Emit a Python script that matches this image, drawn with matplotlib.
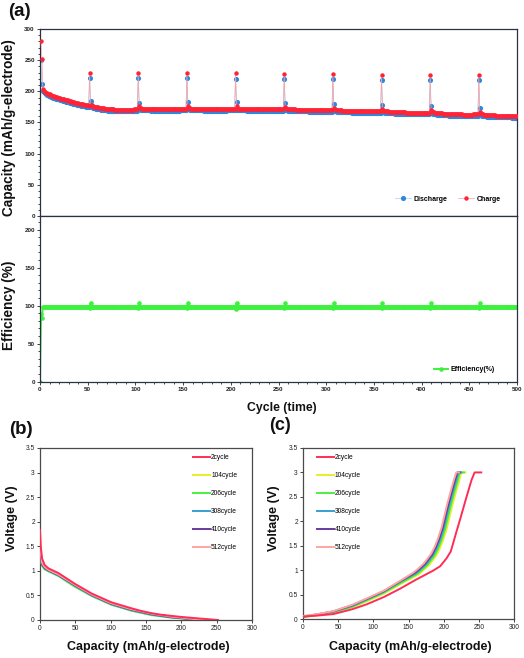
import matplotlib
matplotlib.use('Agg')
import matplotlib.pyplot as plt
from matplotlib.ticker import MultipleLocator
from matplotlib.lines import Line2D

plt.rcParams['font.family'] = ['Liberation Sans', 'DejaVu Sans']

# ---------------- (a) cycling data ----------------
cycles = list(range(1, 501))

discharge = [
    250.0, 212.0, 201.0, 198.4, 196.6, 195.5, 194.6, 193.9, 193.2, 192.5,
    191.9, 191.2, 190.6, 190.1, 189.5, 188.9, 188.4, 187.9, 187.4, 186.9,
    186.4, 185.9, 185.4, 185.0, 184.5, 184.1, 183.6, 183.2, 182.8, 182.3,
    181.9, 181.5, 181.1, 180.6, 180.2, 179.8, 179.4, 179.0, 178.6, 178.2,
    177.9, 177.5, 177.2, 176.8, 176.5, 176.2, 175.8, 175.5, 175.2, 174.9,
    174.6, 221.5, 184.4, 175.6, 174.2, 173.6, 173.1, 172.7, 172.3, 171.9,
    171.6, 171.3, 171.0, 170.7, 170.5, 170.2, 170.0, 169.8, 169.6, 169.4,
    169.2, 169.0, 168.9, 168.7, 168.6, 168.5, 168.4, 168.3, 168.2, 168.2,
    168.1, 168.0, 168.0, 167.9, 167.9, 167.9, 167.8, 167.8, 167.8, 167.8,
    167.8, 167.9, 167.9, 168.0, 168.0, 168.1, 168.2, 168.3, 168.4, 168.5,
    168.6, 168.7, 221.5, 182.0, 171.3, 170.2, 169.8, 169.6, 169.5, 169.4,
    169.4, 169.3, 169.3, 169.4, 169.3, 169.2, 169.3, 169.3, 169.2, 169.2,
    169.3, 169.2, 169.2, 169.1, 169.2, 169.2, 169.1, 169.1, 169.2, 169.1,
    169.1, 169.2, 169.1, 169.1, 169.0, 169.1, 169.1, 169.0, 169.1, 169.1,
    169.0, 169.1, 169.2, 169.1, 169.2, 169.2, 169.3, 169.3, 169.4, 169.4,
    169.5, 169.6, 169.7, 221.5, 182.3, 171.0, 170.1, 169.8, 169.6, 169.5,
    169.5, 169.4, 169.4, 169.5, 169.4, 169.4, 169.3, 169.4, 169.3, 169.3,
    169.3, 169.2, 169.3, 169.2, 169.2, 169.3, 169.2, 169.2, 169.1, 169.2,
    169.2, 169.1, 169.2, 169.1, 169.1, 169.2, 169.1, 169.1, 169.2, 169.2,
    169.1, 169.2, 169.2, 169.3, 169.2, 169.3, 169.3, 169.4, 169.4, 169.5,
    169.5, 169.6, 169.6, 169.7, 220.4, 182.3, 170.8, 169.9, 169.6, 169.5,
    169.4, 169.4, 169.3, 169.4, 169.3, 169.3, 169.2, 169.3, 169.2, 169.2,
    169.1, 169.2, 169.1, 169.1, 169.0, 169.1, 169.0, 169.0, 168.9, 169.0,
    168.9, 168.9, 168.8, 168.9, 168.8, 168.8, 168.7, 168.8, 168.7, 168.7,
    168.7, 168.6, 168.7, 168.6, 168.6, 168.6, 168.7, 168.6, 168.7, 168.7,
    168.8, 168.8, 168.9, 168.9, 169.0, 219.4, 182.0, 170.4, 169.4, 169.0,
    168.8, 168.7, 168.6, 168.6, 168.5, 168.4, 168.4, 168.3, 168.3, 168.2,
    168.2, 168.1, 168.1, 168.0, 168.0, 167.9, 167.9, 167.8, 167.8, 167.7,
    167.7, 167.6, 167.6, 167.5, 167.5, 167.5, 167.4, 167.4, 167.3, 167.3,
    167.3, 167.2, 167.2, 167.2, 167.1, 167.1, 167.1, 167.1, 167.0, 167.0,
    167.1, 167.1, 167.2, 167.2, 167.3, 167.3, 219.4, 180.0, 169.0, 167.9,
    167.5, 167.3, 167.1, 167.0, 166.9, 166.8, 166.7, 166.6, 166.5, 166.5,
    166.4, 166.3, 166.3, 166.2, 166.1, 166.1, 166.0, 166.0, 165.9, 165.9,
    165.8, 165.8, 165.7, 165.7, 165.6, 165.6, 165.5, 165.5, 165.5, 165.4,
    165.4, 165.4, 165.3, 165.3, 165.3, 165.2, 165.2, 165.2, 165.2, 165.2,
    165.2, 165.2, 165.3, 165.3, 165.4, 165.4, 165.5, 218.8, 178.5, 167.5,
    166.4, 165.9, 165.6, 165.4, 165.2, 165.0, 164.9, 164.8, 164.7, 164.6,
    164.5, 164.4, 164.3, 164.2, 164.2, 164.1, 164.0, 163.9, 163.9, 163.8,
    163.7, 163.7, 163.6, 163.5, 163.5, 163.4, 163.4, 163.3, 163.3, 163.2,
    163.2, 163.1, 163.1, 163.1, 163.0, 163.0, 163.0, 163.0, 162.9, 162.9,
    163.0, 163.0, 163.0, 163.1, 163.1, 163.2, 163.2, 163.3, 218.3, 175.8,
    165.2, 164.1, 163.6, 163.3, 163.0, 162.8, 162.6, 162.4, 162.3, 162.1,
    162.0, 161.9, 161.8, 161.7, 161.6, 161.5, 161.4, 161.3, 161.2, 161.1,
    161.0, 161.0, 160.9, 160.8, 160.8, 160.7, 160.6, 160.6, 160.5, 160.5,
    160.4, 160.4, 160.3, 160.3, 160.3, 160.2, 160.2, 160.2, 160.2, 160.2,
    160.2, 160.3, 160.3, 160.4, 160.4, 160.5, 160.5, 160.6, 160.7, 218.3,
    173.7, 162.5, 161.2, 160.6, 160.3, 160.0, 159.8, 159.7, 159.5, 159.4,
    159.3, 159.2, 159.1, 159.0, 158.9, 158.9, 158.8, 158.7, 158.7, 158.6,
    158.6, 158.5, 158.5, 158.4, 158.4, 158.3, 158.3, 158.3, 158.2, 158.2,
    158.2, 158.1, 158.1, 158.1, 158.0, 158.0, 158.0, 158.0, 157.9, 157.9,
]

charge = [
    280.0, 252.0, 204.5, 201.0, 199.2, 198.1, 197.2, 196.5, 195.8, 195.1,
    194.4, 193.8, 193.1, 192.6, 192.0, 191.5, 190.9, 190.4, 189.9, 189.4,
    188.9, 188.4, 187.9, 187.5, 187.0, 186.6, 186.1, 185.7, 185.3, 184.8,
    184.4, 184.0, 183.6, 183.1, 182.7, 182.3, 181.9, 181.5, 181.1, 180.7,
    180.4, 180.0, 179.7, 179.3, 179.0, 178.7, 178.3, 178.0, 177.7, 177.4,
    177.1, 229.6, 178.0, 178.1, 176.7, 176.1, 175.6, 175.2, 174.8, 174.4,
    174.1, 173.8, 173.5, 173.2, 173.0, 172.7, 172.5, 172.3, 172.1, 171.9,
    171.7, 171.5, 171.4, 171.2, 171.1, 171.0, 170.9, 170.8, 170.7, 170.7,
    170.6, 170.5, 170.5, 170.4, 170.4, 170.4, 170.3, 170.3, 170.3, 170.3,
    170.3, 170.4, 170.4, 170.5, 170.5, 170.6, 170.7, 170.8, 170.9, 171.0,
    171.1, 171.2, 229.6, 176.0, 173.8, 172.7, 172.3, 172.1, 172.0, 171.9,
    171.9, 171.8, 171.8, 171.9, 171.8, 171.7, 171.8, 171.8, 171.7, 171.7,
    171.8, 171.7, 171.7, 171.6, 171.7, 171.7, 171.6, 171.6, 171.7, 171.6,
    171.6, 171.7, 171.6, 171.6, 171.5, 171.6, 171.6, 171.5, 171.6, 171.6,
    171.5, 171.6, 171.7, 171.6, 171.7, 171.7, 171.8, 171.8, 171.9, 171.9,
    172.0, 172.1, 172.2, 229.6, 176.0, 173.5, 172.6, 172.3, 172.1, 172.0,
    172.0, 171.9, 171.9, 172.0, 171.9, 171.9, 171.8, 171.9, 171.8, 171.8,
    171.8, 171.7, 171.8, 171.7, 171.7, 171.8, 171.7, 171.7, 171.6, 171.7,
    171.7, 171.6, 171.7, 171.6, 171.6, 171.7, 171.6, 171.6, 171.7, 171.7,
    171.6, 171.7, 171.7, 171.8, 171.7, 171.8, 171.8, 171.9, 171.9, 172.0,
    172.0, 172.1, 172.1, 172.2, 229.6, 176.0, 173.3, 172.4, 172.1, 172.0,
    171.9, 171.9, 171.8, 171.9, 171.8, 171.8, 171.7, 171.8, 171.7, 171.7,
    171.6, 171.7, 171.6, 171.6, 171.5, 171.6, 171.5, 171.5, 171.4, 171.5,
    171.4, 171.4, 171.3, 171.4, 171.3, 171.3, 171.2, 171.3, 171.2, 171.2,
    171.2, 171.1, 171.2, 171.1, 171.1, 171.1, 171.2, 171.1, 171.2, 171.2,
    171.3, 171.3, 171.4, 171.4, 171.5, 227.4, 175.6, 172.9, 171.9, 171.5,
    171.3, 171.2, 171.1, 171.1, 171.0, 170.9, 170.9, 170.8, 170.8, 170.7,
    170.7, 170.6, 170.6, 170.5, 170.5, 170.4, 170.4, 170.3, 170.3, 170.2,
    170.2, 170.1, 170.1, 170.0, 170.0, 170.0, 169.9, 169.9, 169.8, 169.8,
    169.8, 169.7, 169.7, 169.7, 169.6, 169.6, 169.6, 169.6, 169.5, 169.5,
    169.6, 169.6, 169.7, 169.7, 169.8, 169.8, 227.4, 173.8, 171.5, 170.4,
    170.0, 169.8, 169.6, 169.5, 169.4, 169.3, 169.2, 169.1, 169.0, 169.0,
    168.9, 168.8, 168.8, 168.7, 168.6, 168.6, 168.5, 168.5, 168.4, 168.4,
    168.3, 168.3, 168.2, 168.2, 168.1, 168.1, 168.0, 168.0, 168.0, 167.9,
    167.9, 167.9, 167.8, 167.8, 167.8, 167.7, 167.7, 167.7, 167.7, 167.7,
    167.7, 167.7, 167.8, 167.8, 167.9, 167.9, 168.0, 226.3, 172.2, 170.0,
    168.9, 168.4, 168.1, 167.9, 167.7, 167.5, 167.4, 167.3, 167.2, 167.1,
    167.0, 166.9, 166.8, 166.7, 166.7, 166.6, 166.5, 166.4, 166.4, 166.3,
    166.2, 166.2, 166.1, 166.0, 166.0, 165.9, 165.9, 165.8, 165.8, 165.7,
    165.7, 165.6, 165.6, 165.6, 165.5, 165.5, 165.5, 165.5, 165.4, 165.4,
    165.5, 165.5, 165.5, 165.6, 165.6, 165.7, 165.7, 165.8, 225.8, 169.8,
    167.7, 166.6, 166.1, 165.8, 165.5, 165.3, 165.1, 164.9, 164.8, 164.6,
    164.5, 164.4, 164.3, 164.2, 164.1, 164.0, 163.9, 163.8, 163.7, 163.6,
    163.5, 163.5, 163.4, 163.3, 163.3, 163.2, 163.1, 163.1, 163.0, 163.0,
    162.9, 162.9, 162.8, 162.8, 162.8, 162.7, 162.7, 162.7, 162.7, 162.7,
    162.7, 162.8, 162.8, 162.9, 162.9, 163.0, 163.0, 163.1, 163.2, 225.8,
    167.5, 165.0, 163.7, 163.1, 162.8, 162.5, 162.3, 162.2, 162.0, 161.9,
    161.8, 161.7, 161.6, 161.5, 161.4, 161.4, 161.3, 161.2, 161.2, 161.1,
    161.1, 161.0, 161.0, 160.9, 160.9, 160.8, 160.8, 160.8, 160.7, 160.7,
    160.7, 160.6, 160.6, 160.6, 160.5, 160.5, 160.5, 160.5, 160.4, 160.4,
]

# efficiency trace starts from a zero point at cycle 0
eff_start_cycle = 0
eff_start_value = 0.0

assert len(discharge) == 500 and len(charge) == 500

# ---------------- (b) discharge / (c) charge profiles ----------------
profile_labels = ['2cycle', '104cycle', '206cycle', '308cycle', '410cycle', '512cycle']
profile_colors = ['#ff2d55', '#e8ee2a', '#4def3c', '#37a0d2', '#6a3a9e', '#ffa5a0']

# discharge: (capacity, voltage)
dis_2 = [(0, 1.83), (1, 1.5), (3, 1.25), (6.6, 1.12), (12, 1.05), (25.5, 0.96), (49, 0.74),
         (73, 0.54), (101, 0.36), (129, 0.24), (141.5, 0.19), (157.5, 0.14), (170, 0.11),
         (198, 0.065), (226, 0.03), (252, 0.0)]
dis_104 = [(0, 1.65), (1, 1.35), (3, 1.15), (6.6, 1.06), (12, 1.0), (25.5, 0.91), (49, 0.69),
           (73, 0.5), (101, 0.32), (129, 0.2), (157.5, 0.11), (185, 0.06), (210, 0.025), (222, 0.0)]
dis_206 = [(0, 1.45), (1, 1.25), (3, 1.1), (6.6, 1.03), (12, 0.99), (25.5, 0.9), (49, 0.68),
           (73, 0.49), (101, 0.31), (129, 0.19), (157.5, 0.1), (185, 0.05), (210, 0.02), (224, 0.0)]
dis_308 = [(0, 1.5), (1, 1.28), (3, 1.12), (6.6, 1.05), (12, 1.0), (25.5, 0.91), (49, 0.7),
           (73, 0.5), (101, 0.32), (129, 0.2), (157.5, 0.11), (185, 0.055), (212, 0.02), (226, 0.0)]
dis_410 = [(0, 1.55), (1, 1.3), (3, 1.13), (6.6, 1.06), (12, 1.01), (25.5, 0.92), (49, 0.71),
           (73, 0.51), (101, 0.33), (129, 0.21), (157.5, 0.12), (185, 0.06), (214, 0.02), (228, 0.0)]
dis_512 = [(0, 1.7), (1, 1.38), (3, 1.16), (6.6, 1.08), (12, 1.02), (25.5, 0.93), (49, 0.72),
           (73, 0.52), (101, 0.34), (129, 0.22), (157.5, 0.13), (185, 0.07), (215, 0.025), (230, 0.0)]

# charge: (capacity, voltage)
chg_2 = [(0, 0.05), (20, 0.07), (43, 0.1), (70, 0.2), (90.5, 0.3), (115, 0.45), (138, 0.62),
         (160, 0.8), (185, 0.99), (195, 1.08), (204, 1.24), (210, 1.38), (213.5, 1.55),
         (218, 1.78), (223, 2.02), (232.5, 2.5), (239.5, 2.84), (244, 3.0), (253.5, 3.0)]
chg_104 = [(0, 0.04), (20, 0.075), (43, 0.13), (70, 0.24), (90.5, 0.36), (115, 0.52), (138, 0.71),
           (164, 0.91), (170, 0.98), (179, 1.1), (189, 1.29), (194, 1.43), (198.8, 1.6), (204, 1.83),
           (208, 2.07), (212, 2.31), (217.5, 2.6), (222, 2.83), (225, 3.0), (231, 3.0)]
chg_206 = [(0, 0.04), (20, 0.08), (43, 0.14), (70, 0.25), (90.5, 0.38), (115, 0.54), (138, 0.73),
           (162, 0.92), (168, 0.99), (177, 1.11), (187, 1.3), (192, 1.44), (196.8, 1.61), (202, 1.84),
           (206, 2.08), (210, 2.32), (215.5, 2.61), (220, 2.84), (223, 3.0), (229, 3.0)]
chg_308 = [(0, 0.05), (20, 0.09), (43, 0.15), (70, 0.27), (90.5, 0.4), (115, 0.56), (138, 0.76),
           (160, 0.93), (166, 1.0), (175, 1.12), (185, 1.31), (190, 1.45), (194.8, 1.62), (200, 1.85),
           (204, 2.09), (208, 2.33), (213.5, 2.62), (218, 2.85), (221, 3.0), (225, 3.0)]
chg_410 = [(0, 0.05), (20, 0.095), (43, 0.155), (70, 0.28), (90.5, 0.41), (115, 0.57), (138, 0.77),
           (158.5, 0.94), (164.5, 1.01), (173.5, 1.13), (183.5, 1.32), (188.5, 1.46), (193.3, 1.63),
           (198.5, 1.86), (202.5, 2.1), (206.5, 2.34), (212, 2.63), (216.5, 2.86), (219.5, 3.0), (223, 3.0)]
chg_512 = [(0, 0.06), (20, 0.1), (43, 0.16), (70, 0.29), (90.5, 0.42), (115, 0.58), (138, 0.78),
           (157, 0.95), (163, 1.02), (172, 1.14), (182, 1.33), (187, 1.47), (191.8, 1.64), (197, 1.87),
           (201, 2.11), (205, 2.35), (210.5, 2.64), (215, 2.87), (218, 3.0), (222, 3.0)]

discharge_profiles = [dis_2, dis_104, dis_206, dis_308, dis_410, dis_512]
charge_profiles = [chg_2, chg_104, chg_206, chg_308, chg_410, chg_512]

# ---------------- layout helpers (pixel -> figure fraction) ----------------
W, H = 524, 658


def fx(x):
    return x / W


def fy(y):
    return 1 - y / H


def style_ticks(ax, size, bold=False):
    ax.tick_params(axis='both', which='major', direction='out', length=2.2, width=0.6,
                   labelsize=size, pad=1.5, colors='#222222')
    ax.tick_params(axis='both', which='minor', direction='out', length=1.2, width=0.5)
    if bold:
        for lab in ax.get_xticklabels() + ax.get_yticklabels():
            lab.set_fontweight('bold')


fig = plt.figure(figsize=(W / 100, H / 100), dpi=100)

frame_a = '#2a3142'
frame_bc = '#4a4a4a'

ax_cap = fig.add_axes([fx(40), fy(216), (517 - 40) / W, (216 - 29) / H])
ax_eff = fig.add_axes([fx(40), fy(381.5), (517 - 40) / W, (381.5 - 216) / H])
ax_b = fig.add_axes([fx(40), fy(620), (252 - 40) / W, (620 - 448) / H])
ax_c = fig.add_axes([fx(303), fy(619), (514 - 303) / W, (619 - 448) / H])

# capacity
dis_style = dict(color='#a9cdf0', lw=0.5, marker='o', ms=3.7, mfc='#2f86da', mec='#2f86da', mew=0)
chg_style = dict(color='#f5a3a8', lw=0.5, marker='o', ms=3.2, mfc='#ff2336', mec='#ff2336', mew=0)
ax_cap.plot(cycles, discharge, zorder=2, **dis_style)
ax_cap.plot(cycles, charge, zorder=3, **chg_style)
ax_cap.set_xlim(0, 500)
ax_cap.set_ylim(0, 300)
ax_cap.yaxis.set_major_locator(MultipleLocator(50))
ax_cap.yaxis.set_minor_locator(MultipleLocator(10))
ax_cap.xaxis.set_major_locator(MultipleLocator(50))
ax_cap.xaxis.set_minor_locator(MultipleLocator(10))
ax_cap.tick_params(labelbottom=False)
style_ticks(ax_cap, 4.5, bold=True)

h_dis = Line2D([], [], **dis_style)
h_chg = Line2D([], [], **chg_style)
ax_cap.legend([h_dis, h_chg], ['Discharge', 'Charge'], ncol=2, frameon=False,
              loc='center', bbox_to_anchor=(0.855, 0.09), prop={'size': 5, 'weight': 'bold'},
              handlelength=2.2, handletextpad=0.4, columnspacing=1.6)

# efficiency
efficiency = [d / c * 100 for d, c in zip(discharge, charge)]
eff_x = [eff_start_cycle] + cycles
eff_y = [eff_start_value] + efficiency
ax_eff.plot(eff_x, eff_y, color='#3df23d', lw=1.4, marker='o', ms=3.3,
            mfc='#3df23d', mec='#3df23d', mew=0, label='Efficiency(%)')
ax_eff.set_xlim(0, 500)
ax_eff.set_ylim(0, 218)
ax_eff.yaxis.set_major_locator(MultipleLocator(50))
ax_eff.yaxis.set_minor_locator(MultipleLocator(10))
ax_eff.xaxis.set_major_locator(MultipleLocator(50))
ax_eff.xaxis.set_minor_locator(MultipleLocator(10))
style_ticks(ax_eff, 4.5, bold=True)
ax_eff.legend(frameon=False, loc='center', bbox_to_anchor=(0.89, 0.072),
              prop={'size': 5, 'weight': 'bold'}, handlelength=2.0, handletextpad=0.4)

for ax in (ax_cap, ax_eff):
    for sp in ax.spines.values():
        sp.set_color(frame_a)
        sp.set_linewidth(0.9)

# (b) and (c)
for ax, profiles, anchor in ((ax_b, discharge_profiles, (0.722, 0.965)),
                             (ax_c, charge_profiles, (0.066, 0.965))):
    for i, (pts, lab, col) in enumerate(zip(profiles, profile_labels, profile_colors)):
        xs = [p[0] for p in pts]
        ys = [p[1] for p in pts]
        ax.plot(xs, ys, color=col, lw=1.4, label=lab, zorder=5 if i == 0 else 3 + i * 0.1)
    ax.set_xlim(0, 300)
    ax.set_ylim(0, 3.5)
    ax.xaxis.set_major_locator(MultipleLocator(50))
    ax.set_yticks([0, 0.5, 1, 1.5, 2, 2.5, 3, 3.5])
    ax.set_yticklabels(['0', '0.5', '1', '1.5', '2', '2.5', '3', '3.5'])
    style_ticks(ax, 4.8)
    for sp in ax.spines.values():
        sp.set_color(frame_bc)
        sp.set_linewidth(0.9)
    ax.legend(frameon=False, loc='upper left', bbox_to_anchor=anchor, borderpad=0,
              borderaxespad=0, fontsize=4.8, handlelength=2.5, handletextpad=0.2,
              labelspacing=1.65)

# ---------------- texts ----------------
bold = dict(fontweight='bold', color='#111111')
fig.text(fx(8), fy(12), '(a)', fontsize=13.5, va='center', ha='left', **bold)
fig.text(fx(9), fy(429), '(b)', fontsize=13.5, va='center', ha='left', **bold)
fig.text(fx(269), fy(426), '(c)', fontsize=13, va='center', ha='left', **bold)

fig.text(fx(9), fy(128), 'Capacity (mAh/g-electrode)', fontsize=9.8, rotation=90,
         va='center', ha='center', **bold)
fig.text(fx(9), fy(305), 'Efficiency (%)', fontsize=9.8, rotation=90,
         va='center', ha='center', **bold)
fig.text(fx(282), fy(408), 'Cycle (time)', fontsize=8.8, va='center', ha='center', **bold)

fig.text(fx(12), fy(518), 'Voltage (V)', fontsize=9.2, rotation=90, va='center', ha='center', **bold)
fig.text(fx(274), fy(518), 'Voltage (V)', fontsize=9.2, rotation=90, va='center', ha='center', **bold)
fig.text(fx(148), fy(647), 'Capacity (mAh/g-electrode)', fontsize=9, va='center', ha='center', **bold)
fig.text(fx(410), fy(647), 'Capacity (mAh/g-electrode)', fontsize=9, va='center', ha='center', **bold)

fig.savefig('out.png', dpi=100)
